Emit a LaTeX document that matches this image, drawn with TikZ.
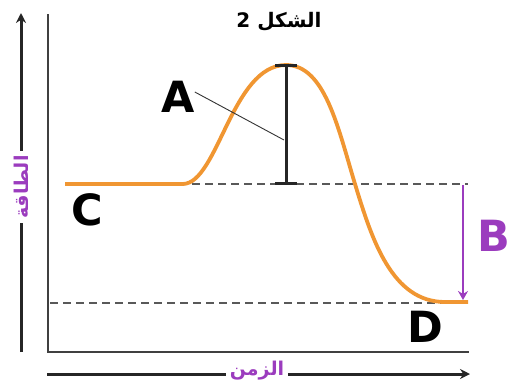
\documentclass[tikz,border=0pt]{standalone}
\usepackage{fontspec}
\usetikzlibrary{arrows.meta, positioning}
\TeXXeTstate=1
\newfontfamily\arabicfont[Script=Arabic]{DejaVu Sans}
\newfontfamily\lblfont{DejaVu Sans}
\definecolor{curveorange}{RGB}{240,150,50}
\definecolor{axpurple}{RGB}{155,60,190}

\begin{document}
\begin{tikzpicture}[
            x=1pt, y=-1pt,
            letter/.style={font=\lblfont\bfseries\fontsize{43}{43}\selectfont, inner sep=0pt},
            axlabel/.style={font=\arabicfont\bfseries\fontsize{19}{19}\selectfont, text=axpurple, inner sep=4pt},
            axline/.style={line width=3pt, black!85},
            axarr/.style={line width=3pt, black!85, -{Stealth[length=10pt, width=10pt]}},
            frame/.style={line width=1.5pt, black!75},
            guide/.style={line width=2pt, black!65, dash pattern=on 8pt off 5pt},
            energy/.style={line width=3.8pt, curveorange, line join=round},
        ]
            \useasboundingbox (0,0) rectangle (521,381);

            % title
            \node[font=\arabicfont\bfseries\fontsize{20}{20}\selectfont] (title) at (279,22) {\beginR الشكل 2\endR};

            % outer axes with labels
            \coordinate (ybot) at (21,352);
            \coordinate (ytop) at (21,13);
            \node[axlabel, rotate=90] (elab) at (21,187) {\beginR الطاقة\endR};
            \draw[axline] (ybot) -- (ybot |- elab.west);
            \draw[axarr]  (ytop |- elab.east) -- (ytop);

            \coordinate (xleft)  at (47,374);
            \coordinate (xright) at (470,374);
            \node[axlabel] (tlab) at (257,371) {\beginR الزمن\endR};
            \draw[axline] (xleft) -- (xleft -| tlab.west);
            \draw[axarr]  (xright -| tlab.east) -- (xright);

            % inner frame
            \coordinate (ftop)    at (48,14);
            \coordinate (forigin) at (48,352);
            \coordinate (fright)  at (469,352);
            \draw[frame] (ftop) -- (forigin) -- (fright);

            % reference levels
            \coordinate (hiL) at (192,184);
            \coordinate (hiR) at (468,184);
            \coordinate (loL) at (50,303);
            \coordinate (loR) at (468,303);
            \draw[guide] (hiL) -- (hiR);
            \draw[guide] (loL) -- (loR);

            % energy curve
            \coordinate (start) at (65,184);
            \coordinate (rise)  at (183,184);
            \coordinate (peak)  at (286,65);
            \coordinate (mid)   at (355,184);
            \coordinate (low)   at (445,302);
            \coordinate (stop)  at (468,302);
            \draw[energy] (start) -- (rise)
                .. controls (218,183) and (232,65) .. (peak)
                .. controls (325,65) and (338,128) .. (mid)
                .. controls (372,240) and (392,302) .. (low)
                -- (stop);

            % activation bar
            \coordinate (barT) at (286,65);
            \coordinate (barB) at (286,183);
            \draw[line width=3pt, black!85] (barT) -- (barB);
            \draw[line width=3pt, black!85] ([xshift=-11pt]barT) -- ([xshift=11pt]barT);
            \draw[line width=3pt, black!85] ([xshift=-11pt]barB) -- ([xshift=11pt]barB);

            % enthalpy arrow
            \coordinate (bT) at (463,185);
            \coordinate (bB) at (463,300);
            \draw[line width=2.8pt, axpurple, -{Stealth[length=9pt, width=10pt]}] (bT) -- (bB);

            % letters
            \node[letter] (A) at (178,97)  {A};
            \node[letter, text=axpurple] (B) at (494,236) {B};
            \node[letter] (C) at (87,210)  {C};
            \node[letter] (D) at (425,327) {D};

            \coordinate (barA) at (284,140);
            \draw[line width=0.9pt, black!80] (A.east) ++(0pt,5pt) -- (barA);
        \end{tikzpicture}
\end{document}
